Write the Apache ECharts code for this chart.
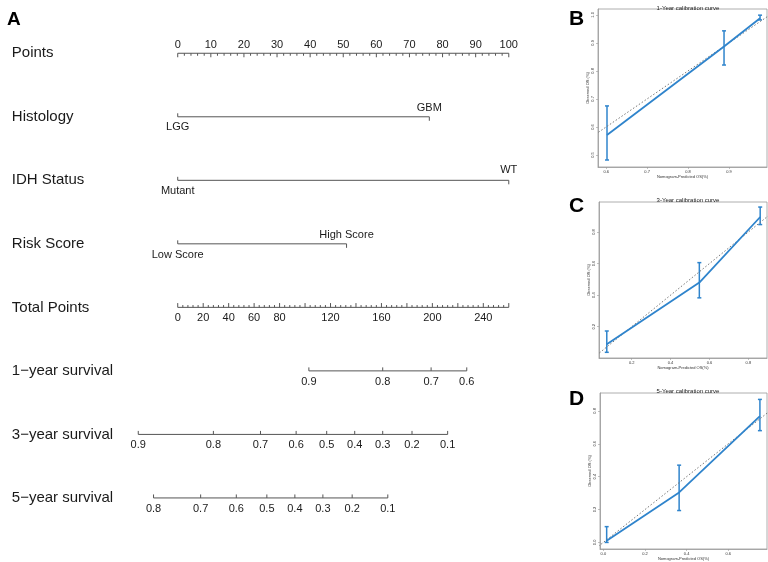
<!DOCTYPE html>
<html>
<head>
<meta charset="utf-8">
<script src="https://cdn.jsdelivr.net/npm/echarts@6/dist/echarts.min.js"></script>
<style>
  html, body { margin: 0; padding: 0; background: #fff; }
  #main { width: 768px; height: 562px; }
</style>
</head>
<body>
<div id="main"></div>
<script>
// ---- nomogram (A) ----
const rowNames = ['Points', 'Histology', 'IDH Status', 'Risk Score', 'Total Points',
  '1\u2212year survival', '3\u2212year survival', '5\u2212year survival'];
const pointsMax = 100;
const pointsLabels = [0, 10, 20, 30, 40, 50, 60, 70, 80, 90, 100];
const histLevels = ['LGG', 'GBM'];
const histPoints = [0, 76];
const idhLevels = ['Mutant', 'WT'];
const idhPoints = [0, 100];
const riskLevels = ['Low Score', 'High Score'];
const riskPoints = [0, 51];
const totalMax = 260;
const totalLabels = [0, 20, 40, 60, 80, 120, 160, 200, 240];
const surv1 = [0.9, 0.8, 0.7, 0.6];
const surv1Total = [103, 161, 199, 227];
const surv3 = [0.9, 0.8, 0.7, 0.6, 0.5, 0.4, 0.3, 0.2, 0.1];
const surv3Total = [-31, 28, 65, 93, 117, 139, 161, 184, 212];
const surv5 = [0.8, 0.7, 0.6, 0.5, 0.4, 0.3, 0.2, 0.1];
const surv5Total = [-19, 18, 46, 70, 92, 114, 137, 165];

// ---- calibration curves (B, C, D) ----
const bPred = [0.602, 0.888, 0.976];
const bObs  = [0.571, 0.887, 0.988];
const bLow  = [0.482, 0.821, 0.982];
const bHigh = [0.675, 0.943, 0.999];
const cPred = [0.072, 0.548, 0.861];
const cObs  = [0.089, 0.480, 0.895];
const cLow  = [0.038, 0.383, 0.847];
const cHigh = [0.173, 0.606, 0.958];
const dPred = [0.016, 0.364, 0.752];
const dObs  = [0.010, 0.304, 0.768];
const dLow  = [0.000, 0.194, 0.680];
const dHigh = [0.096, 0.470, 0.870];

const FONT = '"Liberation Sans", Arial, sans-serif';
const LINE = '#555';
const TEXT = '#1a1a1a';
const BLUE = '#2f84cc';

const k = totalMax / pointsMax; // points -> total points

// generic row of ticks + labels on the nomogram grid
function tickRow(row, items) {
  return {
    type: 'custom',
    xAxisIndex: 0, yAxisIndex: 0,
    silent: true, clip: false,
    data: items.map(it => [it.v, row]),
    renderItem: function (params, api) {
      const it = items[params.dataIndex];
      const p = api.coord([api.value(0), api.value(1)]);
      const ch = [{
        type: 'line',
        shape: { x1: p[0], y1: p[1], x2: p[0], y2: p[1] + it.tick },
        style: { stroke: LINE, lineWidth: 1 }
      }];
      if (it.label !== undefined) {
        ch.push({
          type: 'text', x: p[0], y: p[1] + it.ly,
          style: { text: String(it.label), fill: TEXT, fontSize: 11, fontFamily: FONT,
                   align: 'center', verticalAlign: 'middle' }
        });
      }
      return { type: 'group', children: ch };
    }
  };
}
function axisLineRow(row, a, b) {
  return {
    type: 'line', xAxisIndex: 0, yAxisIndex: 0, silent: true, clip: false,
    symbol: 'none', lineStyle: { color: LINE, width: 1 },
    data: [[a, row], [b, row]]
  };
}

const series = [];

// Points row
const ptItems = [];
for (let v = 0; v <= pointsMax; v += 2) {
  const lab = pointsLabels.indexOf(v) >= 0;
  ptItems.push({ v: v * k, tick: lab ? 4 : 2.5, label: lab ? v : undefined, ly: -8 });
}
series.push(axisLineRow(rowNames[0], 0, pointsMax * k), tickRow(rowNames[0], ptItems));

// categorical rows
function catRow(row, levels, pts, below, above) {
  const items = levels.map((l, i) => i % 2 === 0
    ? { v: pts[i] * k, tick: -3.5, label: l, ly: below }
    : { v: pts[i] * k, tick: 4, label: l, ly: above });
  series.push(axisLineRow(row, Math.min(...pts) * k, Math.max(...pts) * k), tickRow(row, items));
}
catRow(rowNames[1], histLevels, histPoints, 10, -8.5);
catRow(rowNames[2], idhLevels, idhPoints, 11, -10);
catRow(rowNames[3], riskLevels, riskPoints, 11.5, -8.5);

// Total points row
const totItems = [];
for (let v = 0; v <= totalMax; v += 4) {
  const major = v % 20 === 0;
  totItems.push({ v: v, tick: major ? -4.3 : -2.3,
    label: totalLabels.indexOf(v) >= 0 ? v : undefined, ly: 10.5 });
}
series.push(axisLineRow(rowNames[4], 0, totalMax), tickRow(rowNames[4], totItems));

// survival rows
function survRow(row, probs, tps) {
  const items = probs.map((p, i) => ({ v: tps[i], tick: -3.5, label: p.toFixed(1), ly: 11 }));
  series.push(axisLineRow(row, Math.min(...tps), Math.max(...tps)), tickRow(row, items));
}
survRow(rowNames[5], surv1, surv1Total);
survRow(rowNames[6], surv3, surv3Total);
survRow(rowNames[7], surv5, surv5Total);

// calibration panels
function calSeries(gi, pred, obs, low, high) {
  series.push({
    type: 'line', xAxisIndex: gi, yAxisIndex: gi, silent: true, symbol: 'none',
    lineStyle: { color: '#777', width: 1, type: [1.5, 2] },
    data: [[-1, -1], [2, 2]]
  });
  series.push({
    type: 'line', xAxisIndex: gi, yAxisIndex: gi, silent: true, symbol: 'none',
    lineStyle: { color: BLUE, width: 1.8 },
    data: pred.map((p, i) => [p, obs[i]])
  });
  series.push({
    type: 'custom', xAxisIndex: gi, yAxisIndex: gi, silent: true, clip: false,
    data: pred.map((p, i) => [p, low[i], high[i]]),
    renderItem: function (params, api) {
      const a = api.coord([api.value(0), api.value(1)]);
      const b = api.coord([api.value(0), api.value(2)]);
      const st = { stroke: BLUE, lineWidth: 1.5 };
      return { type: 'group', children: [
        { type: 'line', shape: { x1: a[0], y1: a[1], x2: b[0], y2: b[1] }, style: st },
        { type: 'line', shape: { x1: a[0] - 2, y1: a[1], x2: a[0] + 2, y2: a[1] }, style: st },
        { type: 'line', shape: { x1: b[0] - 2, y1: b[1], x2: b[0] + 2, y2: b[1] }, style: st }
      ] };
    }
  });
}
calSeries(1, bPred, bObs, bLow, bHigh);
calSeries(2, cPred, cObs, cLow, cHigh);
calSeries(3, dPred, dObs, dLow, dHigh);

function calX(gi, min, max) {
  return {
    type: 'value', gridIndex: gi, min: min, max: max, splitNumber: 4,
    splitLine: { show: false },
    axisLine: { show: true, onZero: false, lineStyle: { color: '#999', width: 0.8 } },
    axisTick: { show: true, length: 2, lineStyle: { color: '#999', width: 0.6 } },
    axisLabel: { fontSize: 4, color: '#333', margin: 3, fontFamily: FONT,
                 showMinLabel: false, showMaxLabel: false, formatter: v => v.toFixed(1) },
    name: 'Nomogram-Predicted OS(%)', nameLocation: 'middle', nameGap: 8,
    nameTextStyle: { fontSize: 4, color: '#333', fontFamily: FONT }
  };
}
function calY(gi, min, max) {
  return {
    type: 'value', gridIndex: gi, min: min, max: max, splitNumber: 5,
    splitLine: { show: false },
    axisLine: { show: true, onZero: false, lineStyle: { color: '#999', width: 0.8 } },
    axisTick: { show: true, length: 2, lineStyle: { color: '#999', width: 0.6 } },
    axisLabel: { fontSize: 4, color: '#333', margin: 3, rotate: 90, fontFamily: FONT,
                 showMinLabel: false, showMaxLabel: false, formatter: v => v.toFixed(1) },
    name: 'Observed OS (%)', nameLocation: 'middle', nameGap: 8,
    nameTextStyle: { fontSize: 4, color: '#333', fontFamily: FONT }
  };
}

const chart = echarts.init(document.getElementById('main'), null, { renderer: 'canvas' });
chart.setOption({
  animation: false,
  backgroundColor: '#fff',
  title: [
    { text: 'A', left: 2, top: 5, textStyle: { fontSize: 19, fontWeight: 'bold', color: '#000', fontFamily: FONT } },
    { text: 'B', left: 564, top: 4, textStyle: { fontSize: 21, fontWeight: 'bold', color: '#000', fontFamily: FONT } },
    { text: 'C', left: 564, top: 191, textStyle: { fontSize: 21, fontWeight: 'bold', color: '#000', fontFamily: FONT } },
    { text: 'D', left: 564, top: 384, textStyle: { fontSize: 21, fontWeight: 'bold', color: '#000', fontFamily: FONT } },
    { text: '1-Year calibration curve', left: 683, top: 0, textAlign: 'center',
      textStyle: { fontSize: 6, fontWeight: 'normal', color: '#222', fontFamily: FONT } },
    { text: '3-Year calibration curve', left: 683, top: 192, textAlign: 'center',
      textStyle: { fontSize: 6, fontWeight: 'normal', color: '#222', fontFamily: FONT } },
    { text: '5-Year calibration curve', left: 683, top: 383, textAlign: 'center',
      textStyle: { fontSize: 6, fontWeight: 'normal', color: '#222', fontFamily: FONT } }
  ],
  grid: [
    { left: 126.8, right: 246.5, top: 21.5, bottom: 32.3 },
    { left: 598, right: 1, top: 9, bottom: 395, show: true, borderColor: '#999', borderWidth: 0.8 },
    { left: 599, right: 1, top: 202, bottom: 204, show: true, borderColor: '#999', borderWidth: 0.8 },
    { left: 600, right: 1, top: 393, bottom: 12, show: true, borderColor: '#999', borderWidth: 0.8 }
  ],
  xAxis: [
    { type: 'value', gridIndex: 0, min: -40, max: 270, show: false },
    calX(1, 0.58, 0.993),
    calX(2, 0.032, 0.896),
    calX(3, -0.016, 0.786)
  ],
  yAxis: [
    { type: 'category', gridIndex: 0, data: rowNames, inverse: true,
      axisLine: { show: false }, axisTick: { show: false }, splitLine: { show: false },
      axisLabel: { align: 'left', margin: 115, fontSize: 15, color: TEXT, fontFamily: FONT } },
    calY(1, 0.457, 1.021),
    calY(2, 0.002, 0.990),
    calY(3, -0.040, 0.909)
  ],
  series: series
});
</script>
</body>
</html>
